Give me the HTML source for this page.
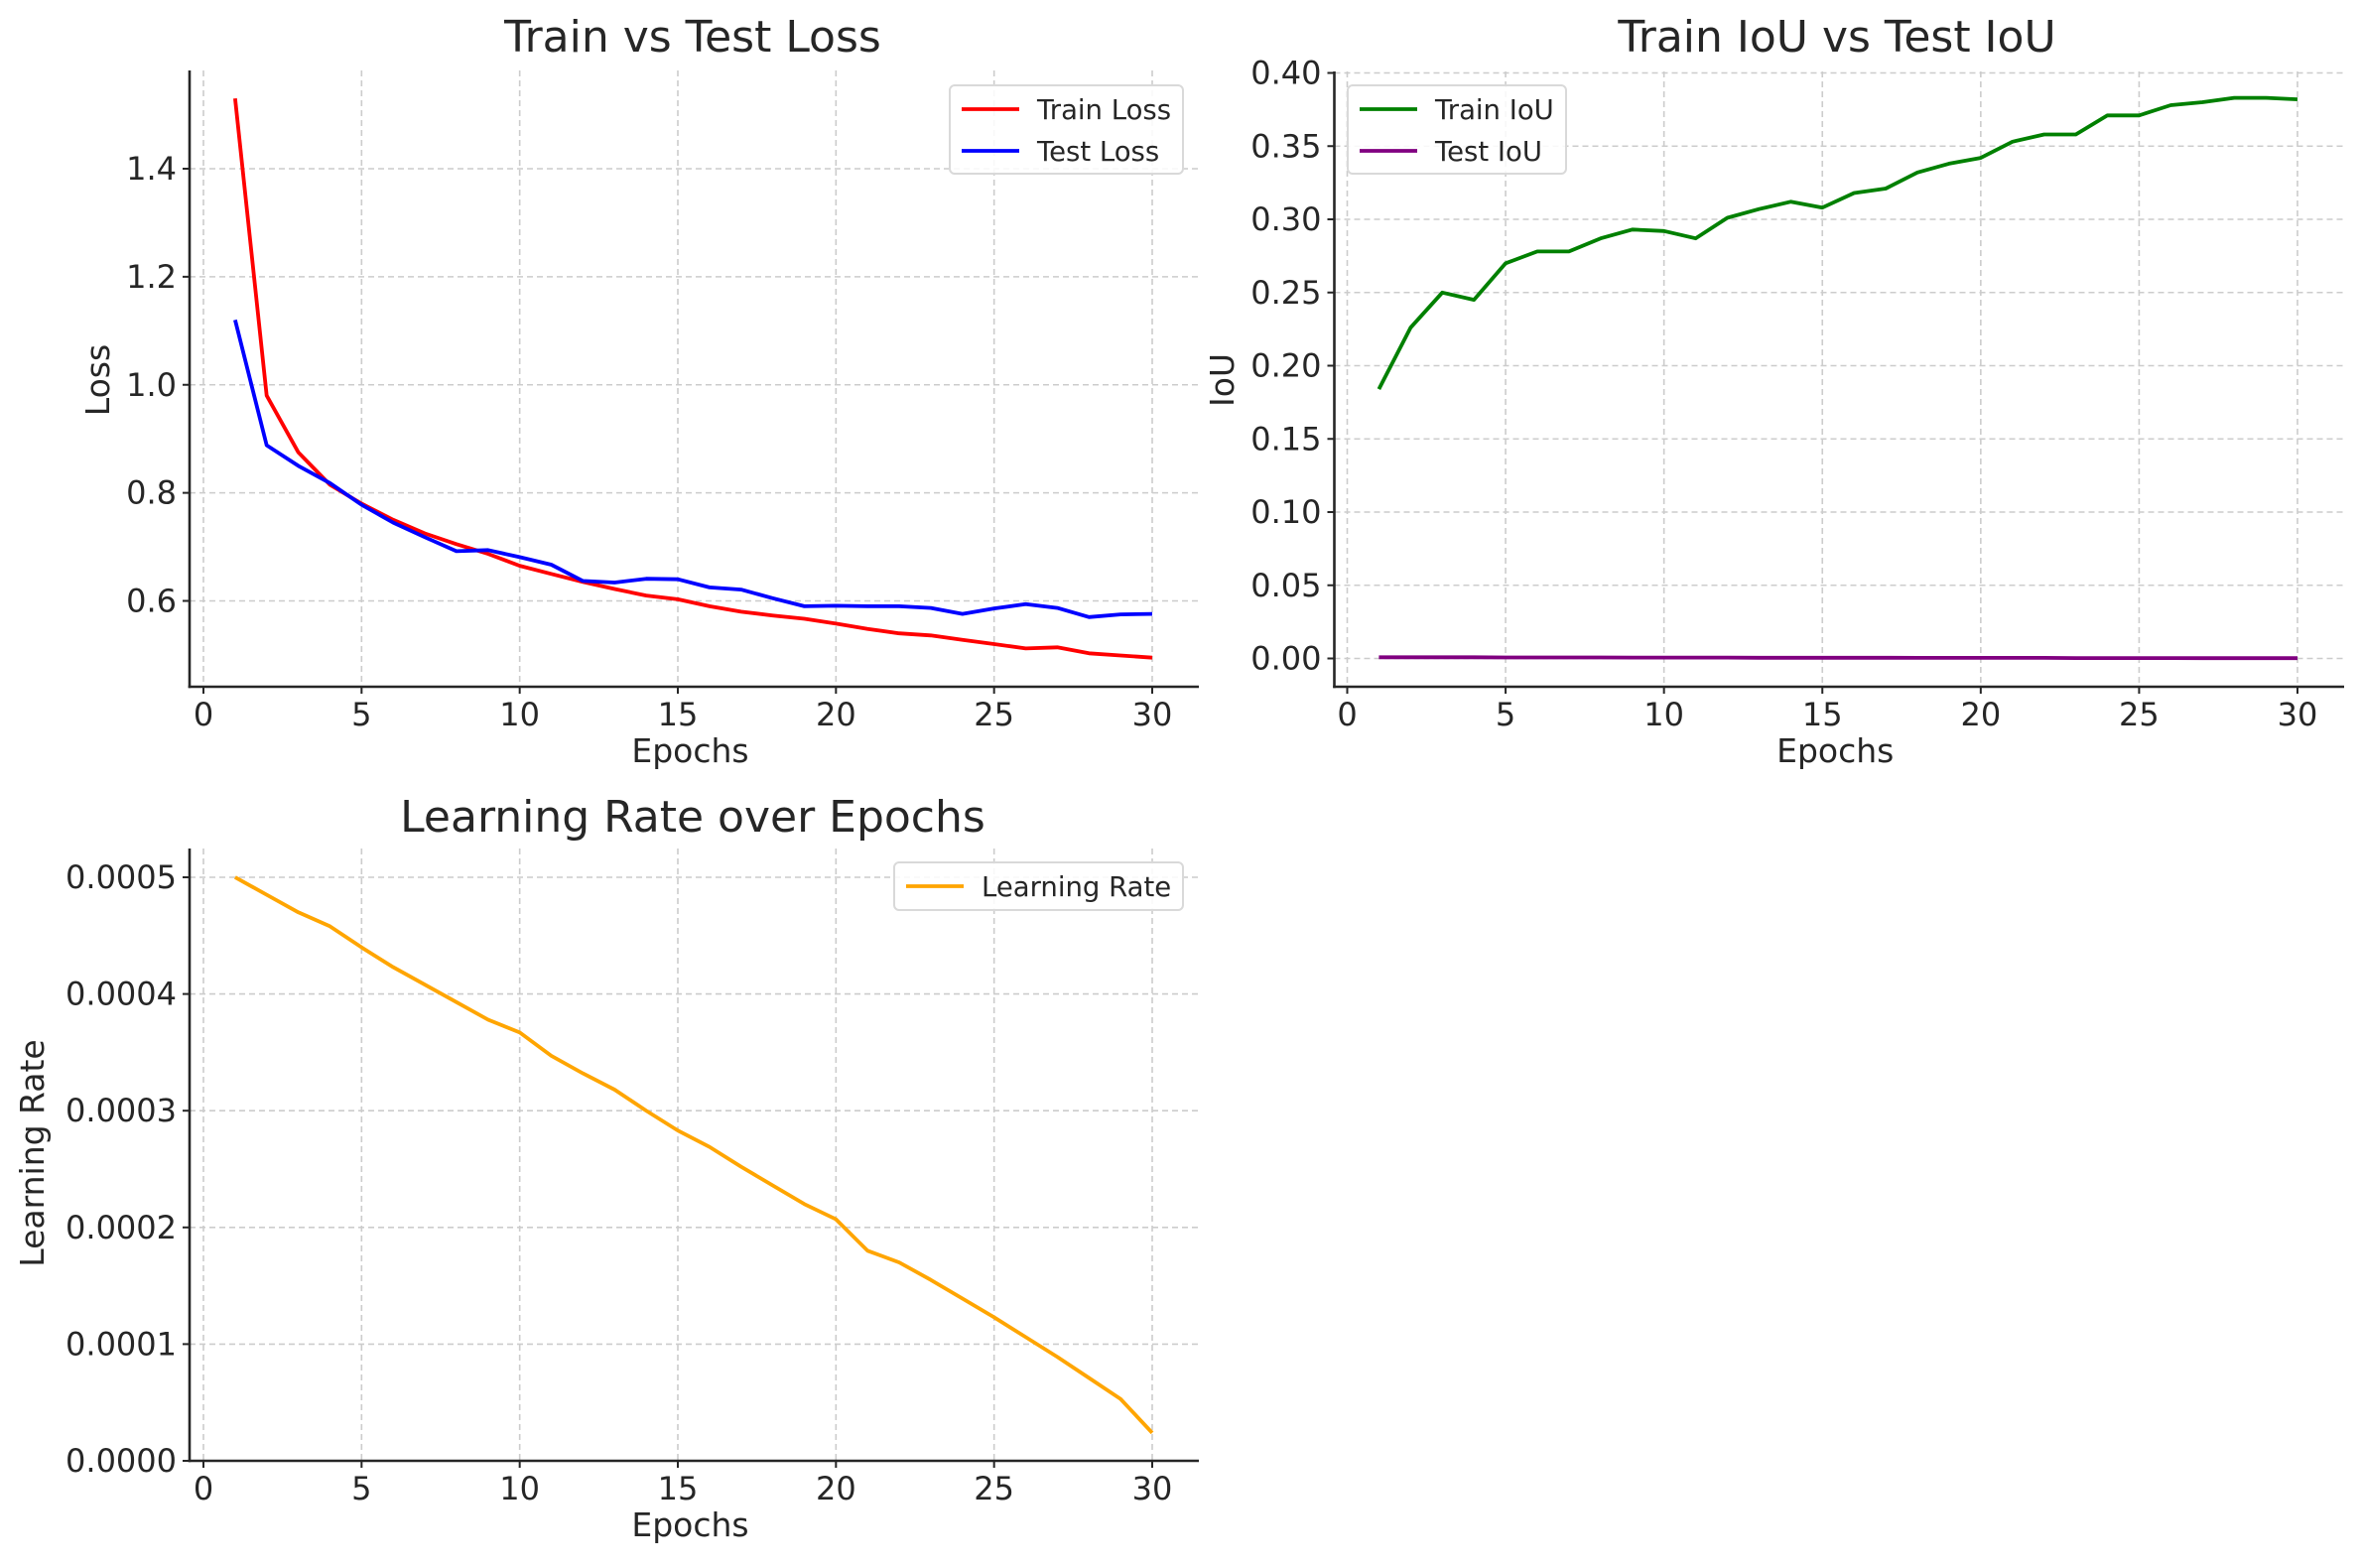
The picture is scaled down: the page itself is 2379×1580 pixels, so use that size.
<!DOCTYPE html>
<html><head><meta charset="utf-8"><style>
html,body{margin:0;padding:0;background:#fff}
svg{display:block;font-family:"DejaVu Sans","Liberation Sans",sans-serif}
</style></head><body>
<svg id="fig" width="2379" height="1580" viewBox="0 0 2379 1580" xmlns="http://www.w3.org/2000/svg"></svg>
<script>
const epochs = [1,2,3,4,5,6,7,8,9,10,11,12,13,14,15,16,17,18,19,20,21,22,23,24,25,26,27,28,29,30];
const trainLoss = [1.53,0.98,0.875,0.815,0.78,0.75,0.725,0.705,0.687,0.665,0.65,0.635,0.622,0.61,0.603,0.59,0.58,0.573,0.567,0.558,0.548,0.54,0.536,0.528,0.52,0.512,0.514,0.503,0.499,0.495];
const testLoss = [1.12,0.888,0.85,0.818,0.778,0.745,0.718,0.692,0.694,0.681,0.667,0.637,0.634,0.641,0.64,0.625,0.621,0.605,0.59,0.591,0.59,0.59,0.587,0.576,0.586,0.594,0.587,0.57,0.575,0.576];
const trainIoU = [0.184,0.226,0.250,0.245,0.270,0.278,0.278,0.287,0.293,0.292,0.287,0.301,0.307,0.312,0.308,0.318,0.321,0.332,0.338,0.342,0.353,0.358,0.358,0.371,0.371,0.378,0.380,0.383,0.383,0.382];
const testIoU = [0.0008,0.0008,0.0008,0.0008,0.0007,0.0007,0.0007,0.0007,0.0006,0.0006,0.0006,0.0006,0.0005,0.0005,0.0005,0.0005,0.0005,0.0004,0.0004,0.0004,0.0004,0.0004,0.0003,0.0003,0.0003,0.0003,0.0002,0.0002,0.0002,0.0002];
const learningRate = [0.0005,0.000485,0.00047,0.000458,0.00044,0.000423,0.000408,0.000393,0.000378,0.000367,0.000347,0.000332,0.000318,0.0003,0.000283,0.000269,0.000252,0.000236,0.00022,0.000207,0.00018,0.00017,0.000155,0.000139,0.000123,0.000106,0.000089,0.000071,0.000053,0.000024];
const xTicks = [0,5,10,15,20,25,30];
const lossTicks = [0.6,0.8,1.0,1.2,1.4];
const iouTicks = [0,0.05,0.10,0.15,0.20,0.25,0.30,0.35,0.40];
const lrTicks = [0,0.0001,0.0002,0.0003,0.0004,0.0005];

const NS="http://www.w3.org/2000/svg";
const svg=document.getElementById('fig');
function mk(tag,attrs,parent){const e=document.createElementNS(NS,tag);for(const k in attrs)e.setAttribute(k,attrs[k]);(parent||svg).appendChild(e);return e;}

function panel(cfg){
  const g=mk('g',{});
  
  
  const sx=v=>cfg.x0px+(v-0)*(cfg.x30px-cfg.x0px)/30;
  const sy=v=>cfg.yA+(v-cfg.vA)*(cfg.yB-cfg.yA)/(cfg.vB-cfg.vA);
  xTicks.forEach(t=>{
    const l=mk('line',{x1:sx(t),x2:sx(t),y1:cfg.top,y2:cfg.bottom,stroke:'#cccccc','stroke-width':1.6,'stroke-dasharray':'6,4'},g);
    
    
  });
  cfg.yTicks.forEach(t=>{
    const l=mk('line',{x1:cfg.left,x2:cfg.right,y1:sy(t),y2:sy(t),stroke:'#cccccc','stroke-width':1.6,'stroke-dasharray':'6,4'},g);
    
    
  });
  cfg.series.forEach(s=>{
    const p=mk('polyline',{points:epochs.map((e,i)=>sx(e).toFixed(1)+','+sy(s.data[i]).toFixed(1)).join(' '),fill:'none',stroke:s.color,'stroke-width':3.8,'stroke-linejoin':'round'},g);
    
    
  });
  mk('line',{x1:cfg.left,x2:cfg.left,y1:cfg.top,y2:cfg.bottom+1.3,stroke:'#262626','stroke-width':2.6},g);
  mk('line',{x1:cfg.left-1.3,x2:cfg.right,y1:cfg.bottom,y2:cfg.bottom,stroke:'#262626','stroke-width':2.6},g);
  xTicks.forEach(t=>{
    mk('line',{x1:sx(t),x2:sx(t),y1:cfg.bottom,y2:cfg.bottom+7,stroke:'#262626','stroke-width':2},g);
    const tx=mk('text',{x:sx(t),y:cfg.bottom+39,'font-size':32,'text-anchor':'middle',fill:'#262626'},g);
    tx.textContent=t;
    
    
  });
  cfg.yTicks.forEach(t=>{
    mk('line',{x1:cfg.left-7,x2:cfg.left,y1:sy(t),y2:sy(t),stroke:'#262626','stroke-width':2},g);
    const tx=mk('text',{x:cfg.left-13,y:sy(t)+11,'font-size':32,'text-anchor':'end',fill:'#262626'},g);
    tx.textContent=t.toFixed(cfg.dec);
    
    
  });
  const ti=mk('text',{x:cfg.titleX,y:cfg.titleY,'font-size':44,'text-anchor':'middle',fill:'#262626'},g);
  ti.textContent=cfg.title;
  
  
  const xl=mk('text',{x:(cfg.left+cfg.right)/2-4,y:cfg.bottom+76,'font-size':33,'text-anchor':'middle',fill:'#262626'},g);
  xl.textContent='Epochs';
  
  
  const yl=mk('text',{x:0,y:0,'font-size':33,'text-anchor':'middle',fill:'#262626',transform:`translate(${cfg.ylabX},${cfg.ylabY}) rotate(-90)`},g);
  yl.textContent=cfg.ylabel;
  
  
  const L=cfg.legend;
  const lg=mk('g',{},g);
  
  
  mk('rect',{x:L.x,y:L.y,width:L.w,height:L.h,rx:5,fill:'#fff','fill-opacity':0.85,stroke:'#d9d9d9','stroke-width':2},lg);
  cfg.series.forEach((s,i)=>{
    const yy=L.y+24+i*42;
    mk('line',{x1:L.x+12,x2:L.x+70,y1:yy,y2:yy,stroke:s.color,'stroke-width':3.8},lg);
    const t=mk('text',{x:L.x+88,y:yy+10,'font-size':27.5,fill:'#262626'},lg);
    t.textContent=s.label;
    
    
  });
}

panel({name:'loss-chart',left:191,right:1208,top:71,bottom:692,x0px:205,x30px:1161,yA:170,vA:1.4,yB:605.5,vB:0.6,
  yTicks:lossTicks,dec:1,title:'Train vs Test Loss',titleX:698,titleY:52,ylabel:'Loss',ylabX:110,ylabY:383,
  legend:{x:957,y:86,w:235,h:89},
  series:[{key:'train-loss',label:'Train Loss',color:'#ff0000',data:trainLoss},{key:'test-loss',label:'Test Loss',color:'#0000ff',data:testLoss}]});
panel({name:'iou-chart',left:1344.5,right:2362,top:72,bottom:692,x0px:1357.5,x30px:2315,yA:73.5,vA:0.40,yB:663.5,vB:0,
  yTicks:iouTicks,dec:2,title:'Train IoU vs Test IoU',titleX:1851,titleY:52,ylabel:'IoU',ylabX:1243,ylabY:383,
  legend:{x:1358,y:86,w:220,h:89},
  series:[{key:'train-iou',label:'Train IoU',color:'#008000',data:trainIoU},{key:'test-iou',label:'Test IoU',color:'#800080',data:testIoU}]});
panel({name:'learning-rate-chart',left:191,right:1208,top:855,bottom:1472,x0px:205,x30px:1161,yA:884,vA:0.0005,yB:1472,vB:0,
  yTicks:lrTicks,dec:4,title:'Learning Rate over Epochs',titleX:698,titleY:838,ylabel:'Learning Rate',ylabX:44,ylabY:1162,
  legend:{x:901,y:869,w:291,h:48},
  series:[{key:'learning-rate',label:'Learning Rate',color:'#ffa500',data:learningRate}]});
</script>
</body></html>
